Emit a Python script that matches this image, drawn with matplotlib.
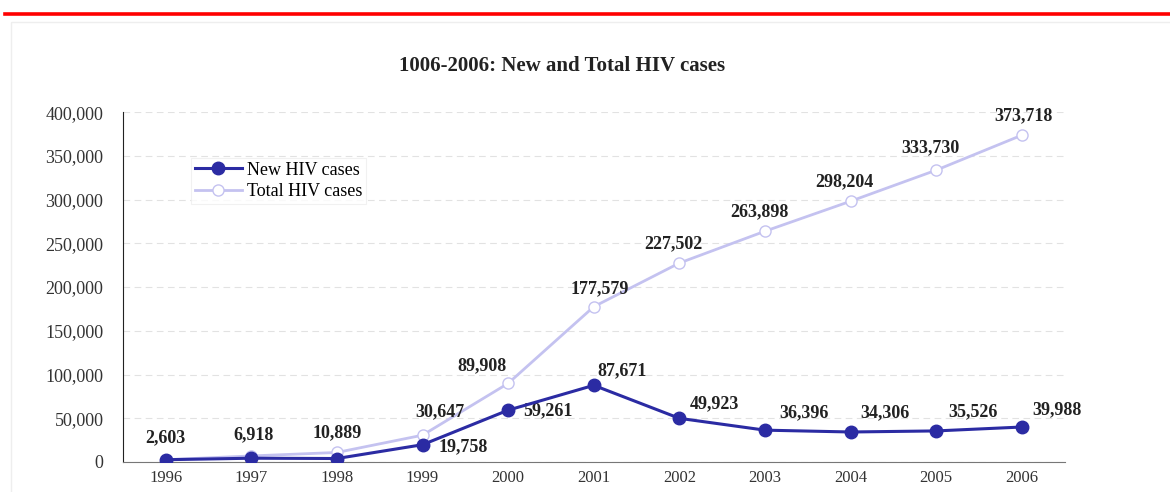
import matplotlib.pyplot as plt
from matplotlib.lines import Line2D
from matplotlib.patches import Rectangle

anos = ["1996", "1997", "1998", "1999", "2000", "2001",
        "2002", "2003", "2004", "2005", "2006"]
novos_casos = [2603, 4315, 3971, 19758, 59261, 87671,
               49923, 36396, 34306, 35526, 39988]
total_casos = [2603, 6918, 10889, 30647, 89908, 177579,
               227502, 263898, 298204, 333730, 373718]
rotulos_novos = [None, None, None, "19,758", "59,261", "87,671",
                 "49,923", "36,396", "34,306", "35,526", "39,988"]
rotulos_total = ["2,603", "6,918", "10,889", "30,647", "89,908", "177,579",
                 "227,502", "263,898", "298,204", "333,730", "373,718"]

# deslocamento dos rótulos em pixels (x, y) a partir de cada ponto
desloc_total = [(0, 22), (2, 21), (0, 20), (17, 23), (-26, 18), (6, 18),
                (-6, 19), (-6, 19), (-6, 19), (-6, 22), (2, 19)]
desloc_novos = [None, None, None, (41, -2), (40, -1), (28, 15),
                (35, 15), (39, 17), (34, 19), (37, 19), (35, 17)]

azul = "#2b2ba3"
lilas = "#c4c2f0"
serif = ["Liberation Serif", "DejaVu Serif"]
plt.rcParams["font.family"] = serif

fig = plt.figure(figsize=(11.7, 4.92), dpi=100)
ax = fig.add_axes([0.105, 0.061, 0.805, 0.711])

# faixa vermelha no topo e moldura clara
fig.add_artist(Line2D([0.004, 1.0], [0.9715, 0.9715], color="#ff0000",
                      linewidth=2.6, transform=fig.transFigure))
fig.add_artist(Rectangle((0.009, -0.1), 1.2, 1.055, fill=False,
                         edgecolor="#eeeeee", linewidth=1,
                         transform=fig.transFigure))

x = list(range(len(anos)))
ax.plot(x, total_casos, color=lilas, linewidth=2, marker="o", markersize=8,
        markerfacecolor="white", markeredgecolor=lilas, markeredgewidth=1,
        label="Total HIV cases", zorder=3)
ax.plot(x, novos_casos, color=azul, linewidth=2.2, marker="o", markersize=9,
        markerfacecolor=azul, markeredgecolor=azul,
        label="New HIV cases", zorder=4)

for i, (v, txt) in enumerate(zip(total_casos, rotulos_total)):
    ax.annotate(txt, (i, v), xytext=desloc_total[i], textcoords="offset pixels",
                ha="center", va="center", fontsize=13, fontweight="bold",
                color="#222222")
for i, (v, txt) in enumerate(zip(novos_casos, rotulos_novos)):
    if txt is None:
        continue
    ax.annotate(txt, (i, v), xytext=desloc_novos[i], textcoords="offset pixels",
                ha="center", va="center", fontsize=13, fontweight="bold",
                color="#222222")

ax.set_xlim(-0.5, 10.5)
ax.set_ylim(0, 400000)
ax.set_xticks(x)
ax.set_xticklabels(anos)
ax.set_yticks(range(0, 400001, 50000))
ax.set_yticklabels([f"{v:,}" for v in range(0, 400001, 50000)])
ax.tick_params(axis="both", length=0, labelsize=13, labelcolor="#333333")
ax.tick_params(axis="x", pad=6, labelsize=12)
ax.tick_params(axis="y", pad=14)

ax.grid(axis="y", linestyle=(0, (6, 4)), color="#e2e2e2", linewidth=0.8)
ax.set_axisbelow(True)
for lado in ["top", "right"]:
    ax.spines[lado].set_visible(False)
ax.spines["left"].set_color("#222222")
ax.spines["bottom"].set_color("#777777")

handles, labels = ax.get_legend_handles_labels()
leg = ax.legend(handles[::-1], labels[::-1], loc="upper left",
                bbox_to_anchor=(0.063, 0.895), fontsize=13, frameon=True,
                fancybox=False, edgecolor="#eeeeee", handlelength=2.6,
                borderpad=0.2, labelspacing=0.25, handletextpad=0.3)
leg.get_frame().set_linewidth(0.8)

fig.text(0.48, 0.866, "1006-2006: New and Total HIV cases", ha="center",
         va="center", fontsize=15, fontweight="bold", color="#222222")

plt.savefig("out.png", dpi=100)
